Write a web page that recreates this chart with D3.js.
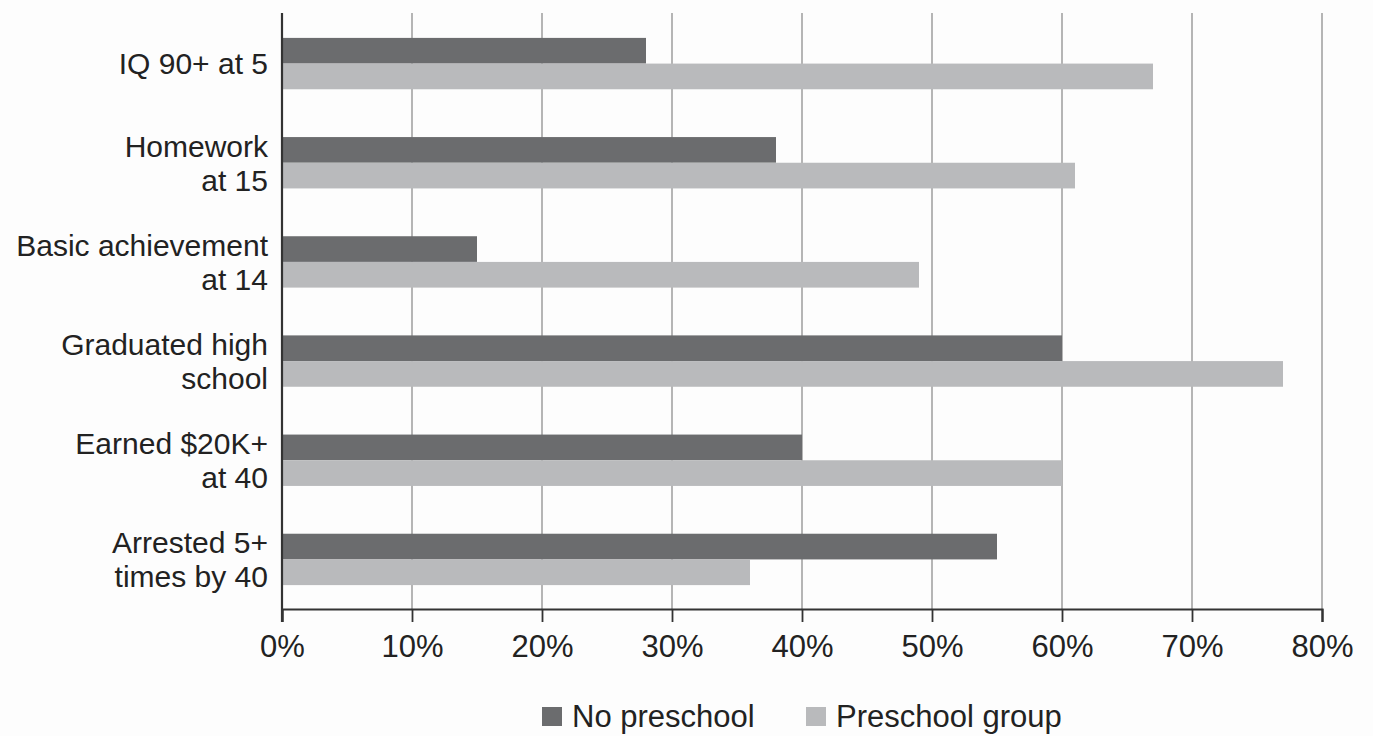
<!DOCTYPE html>
<html>
<head>
<meta charset="utf-8">
<script src="https://cdn.jsdelivr.net/npm/d3@7"></script>
<style>
  html, body { margin: 0; padding: 0; background: #fdfdfd; }
  svg { display: block; }
  text { font-family: "Liberation Sans", Arial, Helvetica, sans-serif; fill: #222; }
</style>
</head>
<body>
<svg id="chart" width="1373" height="736"></svg>
<script>
// Outcomes of the preschool study, percent of each group
const categories = [
  ["IQ 90+ at 5"],
  ["Homework", "at 15"],
  ["Basic achievement", "at 14"],
  ["Graduated high", "school"],
  ["Earned $20K+", "at 40"],
  ["Arrested 5+", "times by 40"]
];
const noPreschool = [28, 38, 15, 60, 40, 55];
const preschoolGroup = [67, 61, 49, 77, 60, 36];
const seriesNames = ["No preschool", "Preschool group"];
const seriesColors = ["#6b6c6e", "#b9babc"];
const xTicks = [0, 10, 20, 30, 40, 50, 60, 70, 80];

const svg = d3.select("#chart");
const margin = { top: 14, left: 282, right: 51, bottom: 127 };
const W = 1373, H = 736;
const innerW = W - margin.left - margin.right;
const innerH = H - margin.top - margin.bottom;
const fontSize = 31;
const labelSize = 30;

const g = svg.append("g").attr("transform", `translate(${margin.left},${margin.top})`);

const x = d3.scaleLinear().domain([0, 80]).range([0, innerW]);
const y = d3.scaleBand().domain(d3.range(categories.length)).range([0, innerH]).paddingInner(0.482).paddingOuter(0.241);
const ySub = d3.scaleBand().domain([0, 1]).range([0, y.bandwidth()]);

// vertical gridlines
g.append("g").selectAll("line").data(xTicks.filter(d => d > 0)).join("line")
  .attr("x1", d => x(d)).attr("x2", d => x(d))
  .attr("y1", -1).attr("y2", innerH)
  .attr("stroke", "#a3a3a3").attr("stroke-width", 1.6);

// bars
const rows = categories.map((c, i) => ({ i, vals: [noPreschool[i], preschoolGroup[i]] }));
g.append("g").selectAll("g").data(rows).join("g")
  .attr("transform", d => `translate(0,${y(d.i)})`)
  .selectAll("rect").data(d => d.vals.map((v, k) => ({ v, k }))).join("rect")
  .attr("x", 0)
  .attr("y", d => ySub(d.k))
  .attr("width", d => x(d.v))
  .attr("height", ySub.bandwidth())
  .attr("fill", d => seriesColors[d.k]);

// x axis
const xAxis = d3.axisBottom(x).tickValues(xTicks).tickFormat(d => d + "%").tickSize(13).tickPadding(13);
const ax = g.append("g").attr("transform", `translate(0,${innerH})`).call(xAxis);
ax.select(".domain").attr("stroke", "#333").attr("stroke-width", 2.2);
ax.selectAll(".tick line").attr("stroke", "#333").attr("stroke-width", 1.8);
ax.selectAll(".tick text").attr("font-size", fontSize).attr("fill", "#222")
  .attr("font-family", "'Liberation Sans', Arial, sans-serif");

// y axis line
g.append("line").attr("x1", 0).attr("x2", 0).attr("y1", -1).attr("y2", innerH + 13)
  .attr("stroke", "#333").attr("stroke-width", 2.2);

// category labels, one or two lines each, centred on their bar pair
const lh = 34;
const labels = g.append("g").selectAll("text").data(categories).join("text")
  .attr("text-anchor", "end")
  .attr("font-size", labelSize)
  .attr("transform", (d, i) => `translate(-14,${y(i) + y.bandwidth() / 2})`);
labels.selectAll("tspan").data(d => d.map((t, k) => ({ t, k, n: d.length }))).join("tspan")
  .attr("x", 0)
  .attr("y", d => (d.k - (d.n - 1) / 2) * lh)
  .attr("dy", "0.36em")
  .text(d => d.t);

// legend
const legend = svg.append("g").attr("transform", "translate(542,727)");
const legendX = [0, 264];
seriesNames.forEach((name, k) => {
  const lg = legend.append("g").attr("transform", `translate(${legendX[k]},0)`);
  lg.append("rect").attr("x", 0).attr("y", -20).attr("width", 20).attr("height", 19).attr("fill", seriesColors[k]);
  lg.append("text").attr("x", 30).attr("y", 0).attr("font-size", fontSize).text(name);
});
</script>
</body>
</html>
